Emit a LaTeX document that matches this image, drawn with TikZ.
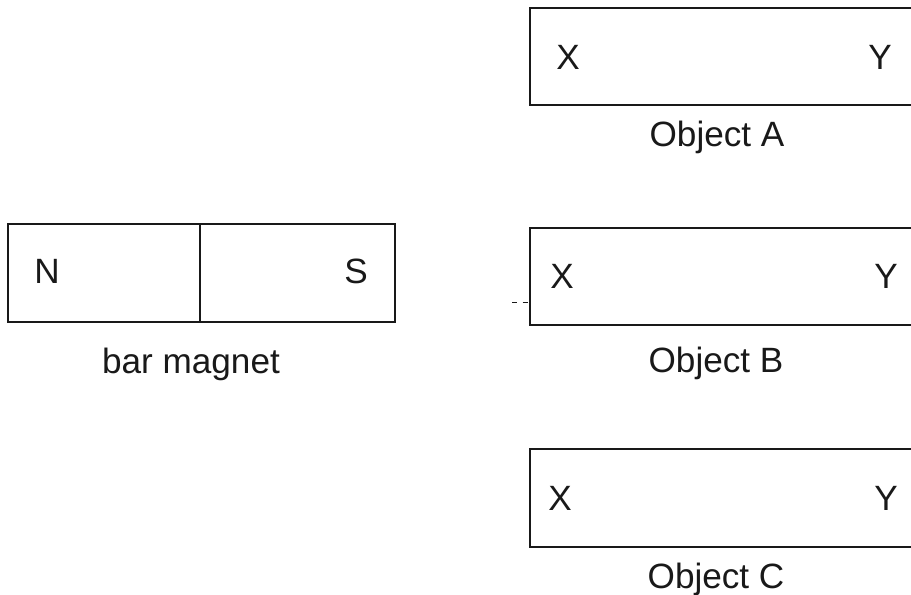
\documentclass[tikz,border=0pt]{standalone}
\usepackage{fontspec}
\setmainfont{Liberation Sans}
\usepackage{tikz}
\usetikzlibrary{positioning}
\usepackage{xcolor}
\definecolor{inkdark}{RGB}{25, 25, 25}

\begin{document}
\begin{tikzpicture}[
    x=0.02cm, y=-0.02cm,
    bar/.style={rectangle, draw=inkdark, line width=1pt, inner sep=0pt, minimum height=1.95cm},
    pole/.style={font=\fontsize{20}{24}\selectfont, color=inkdark, anchor=base, inner sep=0pt},
    caption/.style={font=\fontsize{20}{24}\selectfont, color=inkdark, anchor=base, inner sep=0pt},
]

\useasboundingbox (0, 0) rectangle (911, 594);
\clip (0, 0) rectangle (911, 594);

% Bar magnet
\node[bar, minimum width=3.84cm] (north) at (104, 273) {};
\node[bar, minimum width=3.90cm] (south) at (297.5, 273) {};
\node[pole] (nlabel) at (47, 283) {N};
\node[pole] (slabel) at (356, 283) {S};
\node[caption] (magnet) at (191, 373) {bar magnet};

% Object A
\node[bar, minimum width=9.4cm] (objA) at (765, 56.5) {};
\node[pole] (objAx) at (568, 70) {X};
\node[pole] (objAy) at (880, 70) {Y};
\node[caption] (objAcap) at (717, 147) {Object A};

% Object B
\node[bar, minimum width=9.4cm] (objB) at (765, 276.5) {};
\node[pole] (objBx) at (562, 288) {X};
\node[pole] (objBy) at (886, 288) {Y};
\node[caption] (objBcap) at (716, 372) {Object B};
\coordinate (tick) at (512, 302);
\draw[inkdark, dashed, line width=0.5pt] (tick) -- (tick -| objB.west);

% Object C
\node[bar, minimum width=9.4cm] (objC) at (765, 498) {};
\node[pole] (objCx) at (560, 510) {X};
\node[pole] (objCy) at (886, 510) {Y};
\node[caption] (objCcap) at (716, 588) {Object C};

\end{tikzpicture}
\end{document}
